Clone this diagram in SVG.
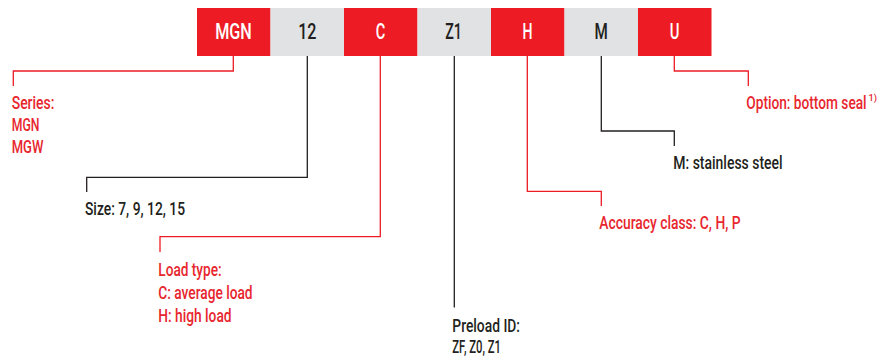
<svg xmlns="http://www.w3.org/2000/svg" width="880" height="356" viewBox="0 0 880 356">
<style>
.rbox{fill:#ED1C24}
.gbox{fill:#E1E2E3}
.bt{font-family:Roboto,"Liberation Sans",Arial,sans-serif;font-weight:500;font-size:22.5px;text-anchor:middle}
.bw{fill:#FFFFFF}
.bk{fill:#231F20}
.lb{font-family:Roboto,"Liberation Sans",Arial,sans-serif;font-weight:500;font-size:18px}
.lr{fill:#E8262E}
.ld{fill:#231F20}
.cr{fill:none;stroke:#ED1C24;stroke-width:1.3}
.ck{fill:none;stroke:#231F20;stroke-width:1.3}
</style>
<rect width="880" height="356" fill="#FFFFFF"/>
<g id="code">
<g id="box-mgn"><rect class="rbox" x="197" y="8" width="73.5" height="48"/><text class="bt bw" x="233.5" y="38.7" textLength="36.7" lengthAdjust="spacingAndGlyphs">MGN</text></g>
<g id="box-12"><rect class="gbox" x="270.5" y="8" width="73.5" height="48"/><text class="bt bk" x="307.3" y="38.7" textLength="18.3" lengthAdjust="spacingAndGlyphs">12</text></g>
<g id="box-c"><rect class="rbox" x="344" y="8" width="73.5" height="48"/><text class="bt bw" x="380.6" y="38.7" textLength="9.5" lengthAdjust="spacingAndGlyphs">C</text></g>
<g id="box-z1"><rect class="gbox" x="417.5" y="8" width="73.5" height="48"/><text class="bt bk" x="453.6" y="38.7" textLength="16.7" lengthAdjust="spacingAndGlyphs">Z1</text></g>
<g id="box-h"><rect class="rbox" x="491" y="8" width="73.5" height="48"/><text class="bt bw" x="527.6" y="38.7" textLength="10" lengthAdjust="spacingAndGlyphs">H</text></g>
<g id="box-m"><rect class="gbox" x="564.5" y="8" width="73.5" height="48"/><text class="bt bk" x="601.1" y="38.7" textLength="13.3" lengthAdjust="spacingAndGlyphs">M</text></g>
<g id="box-u"><rect class="rbox" x="638" y="8" width="73.5" height="48"/><text class="bt bw" x="674.6" y="38.7" textLength="9.7" lengthAdjust="spacingAndGlyphs">U</text></g>
</g>
<g id="connectors">
<polyline class="cr" points="233.3,56 233.3,71 13.3,71 13.3,86"/>
<polyline class="ck" points="307.3,56 307.3,177.3 86.7,177.3 86.7,192"/>
<polyline class="cr" points="380.3,56 380.3,236.7 160,236.7 160,252"/>
<polyline class="ck" points="454.3,56 454.3,307.5"/>
<polyline class="cr" points="527.3,56 527.3,191.3 601.3,191.3 601.3,206"/>
<polyline class="ck" points="601.3,56 601.3,131 674.3,131 674.3,146"/>
<polyline class="cr" points="674.3,56 674.3,71 748.3,71 748.3,86"/>
</g>
<g id="label-series">
<text class="lb lr" x="11.7" y="109" textLength="42.7" lengthAdjust="spacingAndGlyphs">Series:</text>
<text class="lb lr" x="11.7" y="131" textLength="27.7" lengthAdjust="spacingAndGlyphs">MGN</text>
<text class="lb lr" x="11.7" y="153.3" textLength="31.7" lengthAdjust="spacingAndGlyphs">MGW</text>
</g>
<g id="label-size">
<text class="lb ld" x="85" y="215" textLength="100" lengthAdjust="spacingAndGlyphs">Size: 7, 9, 12, 15</text>
</g>
<g id="label-load">
<text class="lb lr" x="158.3" y="276" textLength="63.3" lengthAdjust="spacingAndGlyphs">Load type:</text>
<text class="lb lr" x="158.3" y="299" textLength="94.3" lengthAdjust="spacingAndGlyphs">C: average load</text>
<text class="lb lr" x="158.3" y="321.7" textLength="73.3" lengthAdjust="spacingAndGlyphs">H: high load</text>
</g>
<g id="label-preload">
<text class="lb ld" x="452.3" y="331.7" textLength="67.7" lengthAdjust="spacingAndGlyphs">Preload ID:</text>
<text class="lb ld" x="452.3" y="353.3" textLength="48.7" lengthAdjust="spacingAndGlyphs">ZF, Z0, Z1</text>
</g>
<g id="label-accuracy">
<text class="lb lr" x="599.3" y="229.3" textLength="141.3" lengthAdjust="spacingAndGlyphs">Accuracy class: C, H, P</text>
</g>
<g id="label-material">
<text class="lb ld" x="673.3" y="169" textLength="109.3" lengthAdjust="spacingAndGlyphs">M: stainless steel</text>
</g>
<g id="label-option">
<text class="lb lr" transform="translate(746.3,109.3) scale(0.76,1)" x="0" y="0" textLength="158.3" lengthAdjust="spacingAndGlyphs">Option: bottom seal</text>
<text class="lr" x="868.5" y="101" font-family="Roboto, Liberation Sans, Arial, sans-serif" font-weight="500" font-size="9.5" textLength="8.5" lengthAdjust="spacingAndGlyphs">1)</text>
</g>
</svg>
